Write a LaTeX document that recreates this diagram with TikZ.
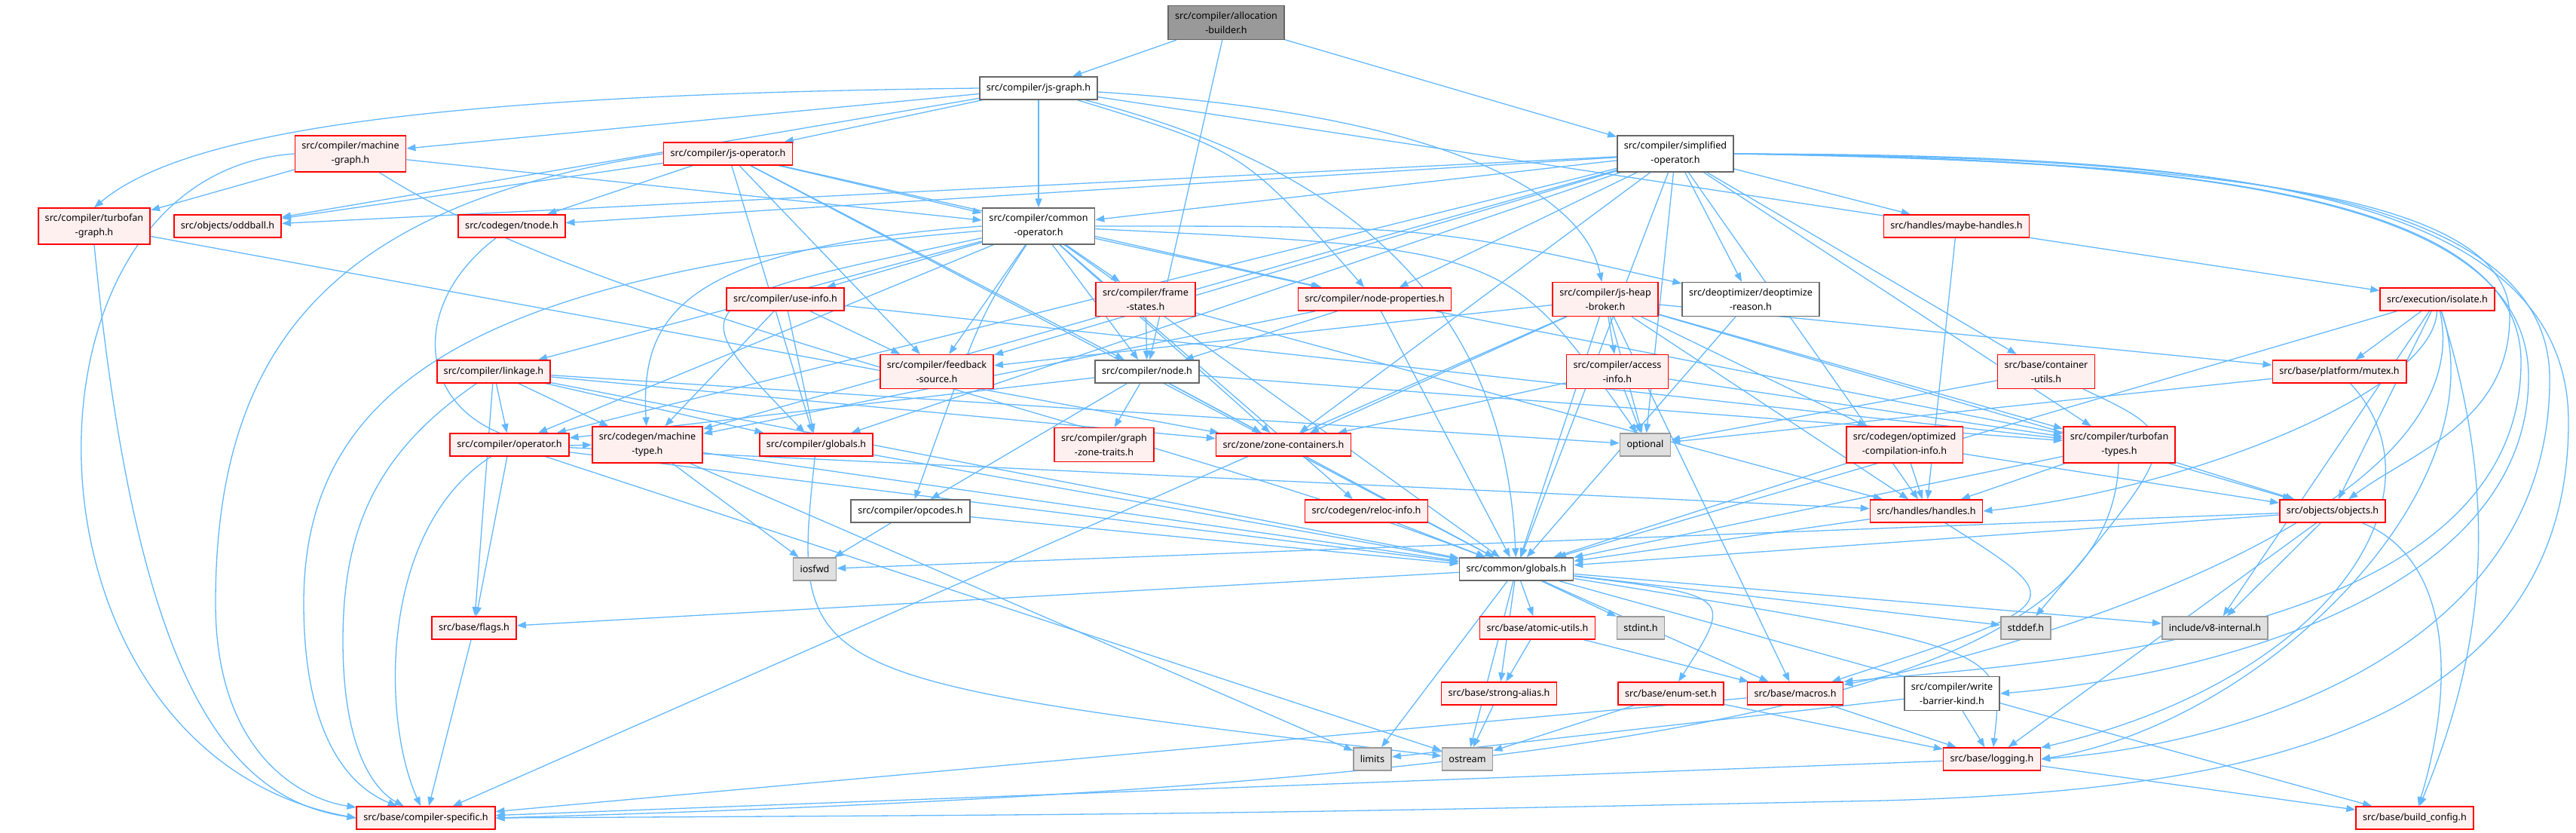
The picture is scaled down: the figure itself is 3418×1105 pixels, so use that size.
\documentclass[tikz,border=0pt]{standalone}
\usepackage{fontspec}
\setmainfont{Noto Sans}
\usetikzlibrary{arrows.meta}
\definecolor{incblue}{HTML}{63B8FF}
\definecolor{redfill}{HTML}{FFF0F0}
\definecolor{sysfill}{HTML}{E0E0E0}
\definecolor{sysdraw}{HTML}{999999}
\definecolor{rootfill}{HTML}{999999}
\definecolor{boxdraw}{HTML}{666666}
\pgfdeclarelayer{bg}
\pgfsetlayers{bg,main}

\begin{document}
\begin{tikzpicture}[x=1pt, y=-1pt,
      font=\fontsize{12.6pt}{19pt}\selectfont,
      hdr/.style={draw=boxdraw, fill=white, line width=1.6pt, align=center, inner xsep=9pt, inner ysep=8pt, minimum height=30pt},
      redhdr/.style={hdr, draw=red, fill=redfill},
      syshdr/.style={hdr, draw=sysdraw, fill=sysfill},
      roothdr/.style={hdr, fill=rootfill},
      inc/.style={draw=incblue, line width=1.3pt, -{Triangle[length=12pt,width=9pt]}}]
      \useasboundingbox (0,0) rectangle (3418,1105);

      % bovenste rijen
      \node[roothdr] (ab) at (1627,30) {src/compiler/allocation\\-builder.h};
      \node[hdr] (jsg) at (1378,117) {src/compiler/js-graph.h};
      \node[hdr] (simp) at (2223,204) {src/compiler/simplified\\-operator.h};
      \node[redhdr] (mg) at (465,204) {src/compiler/machine\\-graph.h};
      \node[redhdr] (jso) at (966,204) {src/compiler/js-operator.h};
      \node[redhdr] (tg) at (125,300) {src/compiler/turbofan\\-graph.h};
      \node[redhdr] (odd) at (302,300) {src/objects/oddball.h};
      \node[redhdr] (tnode) at (679,300) {src/codegen/tnode.h};
      \node[hdr] (comop) at (1378,300) {src/compiler/common\\-operator.h};
      \node[redhdr] (mh) at (2596,300) {src/handles/maybe-handles.h};

      % midden
      \node[redhdr] (use) at (1042,397) {src/compiler/use-info.h};
      \node[redhdr] (fs) at (1520,397) {src/compiler/frame\\-states.h};
      \node[redhdr] (np) at (1824,397) {src/compiler/node-properties.h};
      \node[redhdr] (jhb) at (2130,397) {src/compiler/js-heap\\-broker.h};
      \node[hdr] (deopt) at (2323,397) {src/deoptimizer/deoptimize\\-reason.h};
      \node[redhdr] (iso) at (3234,397) {src/execution/isolate.h};
      \node[redhdr] (fb) at (1243,493) {src/compiler/feedback\\-source.h};
      \node[hdr] (node) at (1522,493) {src/compiler/node.h};
      \node[redhdr] (acc) at (2146,493) {src/compiler/access\\-info.h};
      \node[redhdr] (link) at (655,493) {src/compiler/linkage.h};
      \node[redhdr] (cu) at (2715,493) {src/base/container\\-utils.h};
      \node[redhdr] (mutex) at (3104,493) {src/base/platform/mutex.h};
      \node[redhdr] (op) at (676,590) {src/compiler/operator.h};
      \node[redhdr] (mt) at (859,590) {src/codegen/machine\\-type.h};
      \node[redhdr] (cglob) at (1083,590) {src/compiler/globals.h};
      \node[redhdr] (gzt) at (1465,590) {src/compiler/graph\\-zone-traits.h};
      \node[redhdr] (zc) at (1703,590) {src/zone/zone-containers.h};
      \node[syshdr] (optional) at (2183,590) {optional};
      \node[redhdr] (oci) at (2527,590) {src/codegen/optimized\\-compilation-info.h};
      \node[redhdr] (tt) at (2812,590) {src/compiler/turbofan\\-types.h};
      \node[hdr] (opc) at (1208,678) {src/compiler/opcodes.h};
      \node[redhdr] (reloc) at (1813,678) {src/codegen/reloc-info.h};
      \node[redhdr] (handles) at (2556,678) {src/handles/handles.h};
      \node[redhdr] (objects) at (3095,678) {src/objects/objects.h};

      % onderste rijen
      \node[syshdr] (iosfwd) at (1081,755) {iosfwd};
      \node[hdr] (glob) at (2012,755) {src/common/globals.h};
      \node[redhdr] (flags) at (629,833) {src/base/flags.h};
      \node[redhdr] (atomic) at (2040,833) {src/base/atomic-utils.h};
      \node[syshdr] (stdint) at (2177,833) {stdint.h};
      \node[syshdr] (stddef) at (2688,833) {stddef.h};
      \node[syshdr] (v8i) at (2939,833) {include/v8-internal.h};
      \node[redhdr] (strong) at (1989,920) {src/base/strong-alias.h};
      \node[redhdr] (enumset) at (2217,920) {src/base/enum-set.h};
      \node[redhdr] (macros) at (2382,920) {src/base/macros.h};
      \node[hdr] (wbk) at (2590,920) {src/compiler/write\\-barrier-kind.h};
      \node[syshdr] (limits) at (1821,1007) {limits};
      \node[syshdr] (ostream) at (1947,1007) {ostream};
      \node[redhdr] (logging) at (2643,1007) {src/base/logging.h};
      \node[redhdr] (cs) at (565,1085) {src/base/compiler-specific.h};
      \node[redhdr] (bc) at (3204,1085) {src/base/build\_config.h};

      \begin{pgfonlayer}{bg}
      % allocation-builder
      \foreach \t in {jsg,node,simp} \draw[inc] (ab) -- (\t);
      % js-graph
      \foreach \t in {mg,jso,comop,odd,iso} \draw[inc] (jsg) -- (\t);
      \draw[inc] (jsg.west) .. controls (600,125) and (250,170) .. (tg.north);
      \draw[inc] (jsg) .. controls (1900,150) and (2100,250) .. (jhb);
      \draw[inc] (jsg) .. controls (1650,200) .. (np);
      \draw[inc] (jsg) .. controls (1900,250) and (2000,500) .. (glob);
      % machine-graph, turbofan-graph
      \draw[inc] (mg) -- (tg);
      \draw[inc] (mg) -- (comop);
      \draw[inc] (mg) .. controls (800,420) and (1500,560) .. (glob);
      \draw[inc] (mg.west) .. controls (0,230) and (5,1000) .. (cs.west);
      \draw[inc] (tg.south) .. controls (180,900) and (300,1060) .. (cs.west);
      \draw[inc] (tg) -- (zc);
      % js-operator
      \foreach \t in {odd,tnode,comop,np,fb,node,cglob,glob} \draw[inc] (jso) -- (\t);
      \draw[inc] (jso.west) .. controls (450,270) and (286,450) .. (286,800) .. controls (286,1000) and (400,1060) .. (cs);
      \draw[inc] (tnode) .. controls (520,420) and (560,600) .. (mt.west);
      % common-operator
      \foreach \t in {fs,np,fb,use,link,op,zc,reloc,glob,node} \draw[inc] (comop) -- (\t);
      \draw[inc] (comop.west) .. controls (900,330) and (850,420) .. (mt);
      \draw[inc] (comop) .. controls (900,400) .. (cglob);
      \draw[inc] (comop) .. controls (1900,300) .. (deopt);
      \draw[inc] (comop) .. controls (2000,330) .. (optional);
      \draw[inc] (comop) .. controls (1300,420) .. (opc);
      \draw[inc] (comop) .. controls (650,360) and (403,500) .. (403,800) .. controls (403,1000) and (480,1050) .. (cs);
      % simplified-operator
      \foreach \t in {comop,odd,tnode,fb,np,deopt,mh,cu,tt,handles,glob,op,mt,cglob,zc,optional} \draw[inc] (simp) -- (\t);
      \draw[inc] (simp.east) .. controls (2900,215) and (3330,250) .. (3330,420) .. controls (3330,560) and (3200,600) .. (objects);
      \draw[inc] (simp.east) .. controls (2900,212) and (3355,255) .. (3355,500) .. controls (3355,800) and (2900,900) .. (wbk.east);
      \draw[inc] (simp.east) .. controls (2900,210) and (3345,258) .. (3345,480) .. controls (3345,850) and (2700,880) .. (macros.north east);
      \draw[inc] (simp.east) .. controls (2900,208) and (3380,245) .. (3383,500) .. controls (3386,850) and (3000,985) .. (logging.east);
      \draw[inc] (simp.east) .. controls (2900,205) and (3408,240) .. (3408,560) .. controls (3408,1000) and (2900,1050) .. (2500,1062) .. controls (1600,1080) .. (cs.east);
      % middenlaag
      \foreach \t in {fb,mt,cglob,tt} \draw[inc] (use) -- (\t);
      \draw[inc] (fs) -- (node);
      \draw[inc] (fs) -- (handles);
      \foreach \t in {node,glob,tt,mt} \draw[inc] (np) -- (\t);
      \foreach \t in {fb,zc,optional,acc,oci,handles,objects,tt,glob,macros,mutex,cs} \draw[inc] (jhb) -- (\t);
      \draw[inc] (deopt) -- (glob);
      \foreach \t in {mutex,objects,glob,v8i} \draw[inc] (iso) -- (\t);
      \draw[inc] (iso) .. controls (3230,520) and (2900,650) .. (handles.east);
      \draw[inc] (iso) .. controls (3320,650) and (3000,960) .. (logging.east);
      \draw[inc] (iso) .. controls (3300,700) and (2600,880) .. (macros);
      \draw[inc] (iso) .. controls (3330,700) and (3280,900) .. (bc);
      \foreach \t in {opc,zc,gzt,glob,tt,op} \draw[inc] (node) -- (\t);
      \foreach \t in {zc,optional,tt} \draw[inc] (acc) -- (\t);
      \foreach \t in {op,mt,cglob,flags,glob,zc,optional} \draw[inc] (link) -- (\t);
      \draw[inc] (link) .. controls (500,600) and (455,700) .. (455,850) .. controls (455,1000) and (500,1050) .. (cs);
      \draw[inc] (cu) -- (optional);
      \draw[inc] (cu) .. controls (2900,580) .. (stddef);
      \draw[inc] (mutex) -- (optional);
      \draw[inc] (mutex) .. controls (3250,650) and (3100,900) .. (logging);
      \foreach \t in {flags,glob,handles,ostream} \draw[inc] (op) -- (\t);
      \draw[inc] (op) .. controls (505,700) and (505,950) .. (cs);
      \foreach \t in {glob,iosfwd,limits} \draw[inc] (mt) -- (\t);
      \draw[inc] (cglob) -- (glob);
      \draw[inc] (cglob) .. controls (1050,900) .. (ostream);
      \foreach \t in {handles,objects,glob} \draw[inc] (oci) -- (\t);
      \foreach \t in {handles,objects,glob} \draw[inc] (tt) -- (\t);
      \draw[inc] (tt) .. controls (2800,900) and (2300,1040) .. (cs.east);
      \draw[inc] (opc) -- (iosfwd);
      \draw[inc] (opc) -- (glob);
      \draw[inc] (reloc) -- (glob);
      \draw[inc] (handles) -- (glob);
      \draw[inc] (handles) .. controls (2750,800) .. (macros);
      \draw[inc] (mh) -- (handles);
      \foreach \t in {glob,iosfwd,v8i,logging} \draw[inc] (objects) -- (\t);
      \draw[inc] (objects) .. controls (3250,740) and (3260,900) .. (bc);
      % common/globals
      \foreach \t in {flags,atomic,stdint,stddef,v8i,macros,bc,limits,ostream,strong} \draw[inc] (glob) -- (\t);
      \draw[inc] (glob) .. controls (2300,790) .. (enumset);
      \draw[inc] (glob) .. controls (2660,860) .. (logging);
      \draw[inc] (atomic) -- (strong);
      \draw[inc] (atomic) -- (macros);
      \draw[inc] (strong) -- (ostream);
      \draw[inc] (enumset) -- (ostream);
      \draw[inc] (enumset) -- (logging);
      \draw[inc] (macros) -- (cs);
      \draw[inc] (macros) -- (logging);
      \draw[inc] (wbk) -- (logging);
      \draw[inc] (wbk) -- (limits);
      \draw[inc] (logging) -- (cs);
      \draw[inc] (logging) -- (bc);
      \draw[inc] (flags) -- (cs);
      \end{pgfonlayer}
    \end{tikzpicture}
\end{document}
